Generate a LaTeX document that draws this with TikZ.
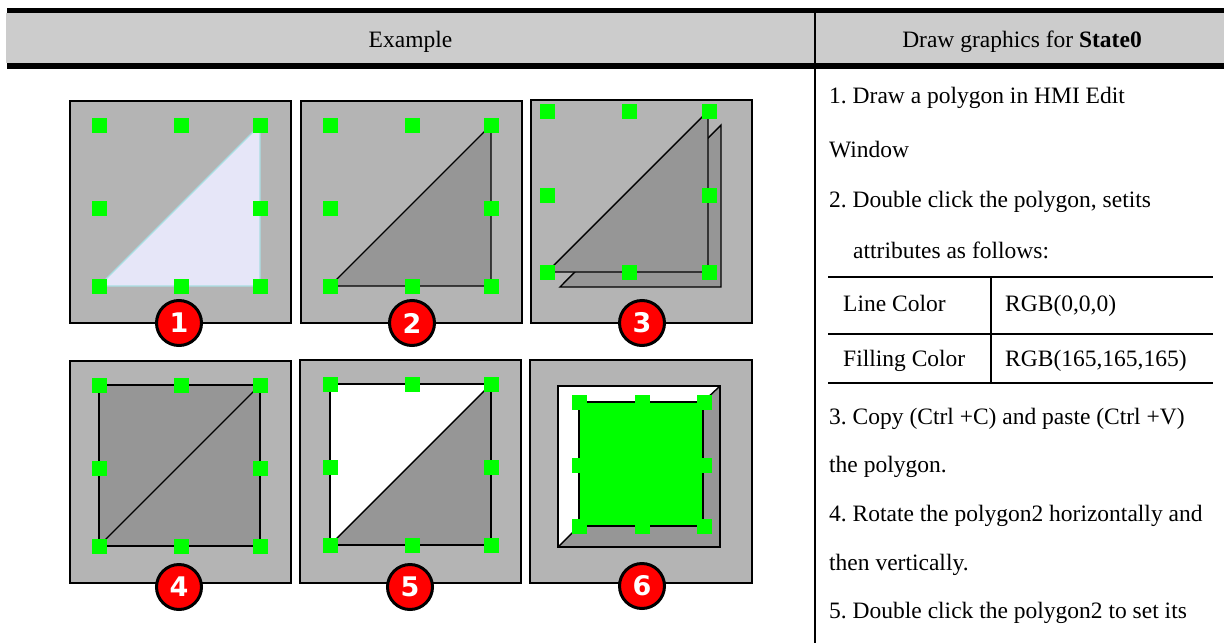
\documentclass[tikz,border=0pt]{standalone}
\usepackage{fontspec}
\setmainfont{Liberation Serif}
\newfontfamily\badgefont{DejaVu Sans}
\frenchspacing
\definecolor{hdrgray}{RGB}{204,204,204}
\definecolor{panelgray}{RGB}{180,180,180}
\definecolor{darkgray}{RGB}{150,150,150}
\definecolor{handlegreen}{RGB}{0,255,0}
\definecolor{lav}{RGB}{230,230,248}
\definecolor{lavline}{RGB}{168,222,226}
\definecolor{badgered}{RGB}{255,0,0}
\newcommand\handlesat[6]{%
  \foreach \hx/\hy in {#1/#4,#2/#4,#3/#4,#1/#5,#3/#5,#1/#6,#2/#6,#3/#6}
    \fill[handlegreen] (\hx-7.5,\hy-7.5) rectangle ++(15,15);}
\begin{document}
\begin{tikzpicture}[x=1pt,y=-1pt,
  txt/.style={font=\fontsize{23.5}{28}\selectfont, inner sep=0pt, anchor=base west},
  hdr/.style={font=\fontsize{23.5}{28}\selectfont, inner sep=0pt, anchor=base},
  panelbox/.style={fill=panelgray, draw=black, line width=1.4pt},
  poly/.style={fill=darkgray, draw=black, line width=1.4pt, line join=miter},
  badge/.style={circle, fill=badgered, draw=black, line width=3pt, minimum size=45pt, inner sep=0pt,
    text=white, font=\badgefont\bfseries\fontsize{27}{27}\selectfont},
  tline/.style={line width=1.8pt}]
\useasboundingbox (0,0) rectangle (1224,643);
% header
\fill[black] (7,8) rectangle (1224,12.6);
\fill[hdrgray] (6,12.6) rectangle (1224,63.4);
\fill[black] (7,63.4) rectangle (1224,69);
\draw[line width=1.5pt] (815,12.6) -- (815,643);
\node[hdr] (h1) at (410.5,47.2) {Example};
\node[hdr] (h2) at (1022,47.2) {Draw graphics for \textbf{State0}};
% panel 1
\begin{scope}[shift={(70,101)}]
  \draw[panelbox] (0,0) rectangle (221,222);
  \draw[fill=lav, draw=lavline, line width=1.4pt] (29,185) -- (190,24) -- (190,185) -- cycle;
  \handlesat{29}{111}{190}{24}{107}{185}
\end{scope}
% panel 2
\begin{scope}[shift={(301,101)}]
  \draw[panelbox] (0,0) rectangle (221,222);
  \draw[poly] (29,185) -- (190,24) -- (190,185) -- cycle;
  \handlesat{29}{111}{190}{24}{107}{185}
\end{scope}
% panel 3
\begin{scope}[shift={(531,100)}]
  \draw[panelbox] (0,0) rectangle (221,223);
  \draw[poly] (29,187) -- (190,25) -- (190,187) -- cycle;
  \draw[poly] (16,172) -- (177,11) -- (177,172) -- cycle;
  \handlesat{16}{98}{178}{11}{95}{172}
\end{scope}
% panel 4
\begin{scope}[shift={(70,361)}]
  \draw[panelbox] (0,0) rectangle (221,222);
  \draw[poly] (29,24) rectangle (190,185);
  \draw[line width=1.4pt] (29,185) -- (190,24);
  \handlesat{29}{111}{190}{24}{107}{185}
\end{scope}
% panel 5
\begin{scope}[shift={(300,360)}]
  \draw[panelbox] (0,0) rectangle (221,223);
  \fill[white] (30,24) -- (191,24) -- (30,185) -- cycle;
  \fill[darkgray] (191,24) -- (191,185) -- (30,185) -- cycle;
  \draw[line width=1.4pt] (30,24) rectangle (191,185);
  \draw[line width=1.4pt] (30,185) -- (191,24);
  \handlesat{30}{112}{191}{24}{107}{185}
\end{scope}
% panel 6
\begin{scope}[shift={(530,360)}]
  \draw[panelbox] (0,0) rectangle (222,223);
  \fill[white] (28,26) -- (190,26) -- (173,42) -- (49,42) -- (49,166) -- (28,187) -- cycle;
  \fill[darkgray] (190,26) -- (190,187) -- (28,187) -- (49,166) -- (173,166) -- (173,42) -- cycle;
  \draw[line width=1.4pt] (28,26) rectangle (190,187);
  \draw[line width=1.4pt] (190,26) -- (173,42);
  \draw[line width=1.4pt] (28,187) -- (49,166);
  \draw[fill=handlegreen, draw=black, line width=1.4pt] (49,42) rectangle (173,166);
  \handlesat{49}{112}{174}{42}{105}{166}
\end{scope}
% badges
\node[badge] (b1) at (179,323) {1};
\node[badge] (b2) at (412,323) {2};
\node[badge] (b3) at (642,323) {3};
\node[badge] (b4) at (179,587) {4};
\node[badge] (b5) at (410,587) {5};
\node[badge] (b6) at (642,586) {6};
% right column text
\node[txt] (t1) at (829,103.4) {1. Draw a polygon in HMI Edit};
\node[txt] (t2) at (829,157.2) {Window};
\node[txt] (t3) at (829,207.2) {2. Double click the polygon, setits};
\node[txt] (t4) at (853,258.2) {attributes as follows:};
% table
\draw[tline] (828,277) -- (1213,277);
\draw[tline] (828,334) -- (1213,334);
\draw[tline] (828,383) -- (1213,383);
\draw[tline] (991,277) -- (991,383);
\node[txt] (c11) at (843,311) {Line Color};
\node[txt] (c12) at (1005,311) {RGB(0,0,0)};
\node[txt] (c21) at (843,366.7) {Filling Color};
\node[txt] (c22) at (1005,366.7) {RGB(165,165,165)};
\node[txt] (t5) at (829,424) {3. Copy (Ctrl +C) and paste (Ctrl +V)};
\node[txt] (t6) at (829,472.6) {the polygon.};
\node[txt] (t7) at (829,521.4) {4. Rotate the polygon2 horizontally and};
\node[txt] (t8) at (829,570) {then vertically.};
\node[txt] (t9) at (829,618.8) {5. Double click the polygon2 to set its};
\end{tikzpicture}
\end{document}
